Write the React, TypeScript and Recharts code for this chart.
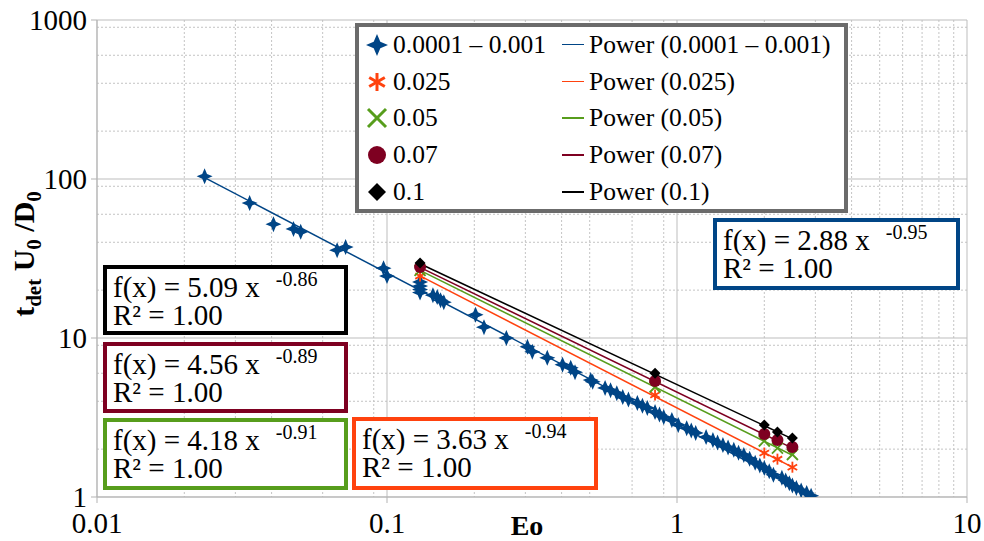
import { CartesianGrid, Legend, Scatter, ScatterChart, XAxis, YAxis } from "recharts"

const FONT = '"Liberation Serif", "Times New Roman", serif'

const xTicks = [0.01, 0.1, 1, 10]
const yTicks = [1, 10, 100, 1000]
const xMinor = [0.02, 0.03, 0.04, 0.05, 0.06, 0.07, 0.08, 0.09, 0.2, 0.3, 0.4, 0.5, 0.6, 0.7, 0.8, 0.9, 2, 3, 4, 5, 6, 7, 8, 9]
const yMinor = [2, 3, 4, 5, 6, 7, 8, 9, 20, 30, 40, 50, 60, 70, 80, 90, 200, 300, 400, 500, 600, 700, 800, 900]

// 0.0001 – 0.001 series (lots of overlapping points)
const blueEo = [
  0.0235, 0.0336, 0.0406, 0.0476, 0.0504, 0.0673, 0.072, 0.0973, 0.1, 0.13, 0.13, 0.13, 0.13,
  0.144, 0.149, 0.153, 0.157, 0.202, 0.216, 0.258, 0.305, 0.317, 0.357, 0.403, 0.43, 0.445,
  0.504, 0.512, 0.565, 0.59, 0.62, 0.65, 0.68, 0.73, 0.76, 0.79, 0.84, 0.87, 0.9, 0.96, 1.01,
  1.08, 1.12, 1.16, 1.26, 1.33, 1.38, 1.44, 1.5, 1.57, 1.63, 1.7, 1.78, 1.86, 1.93, 2.0, 2.08,
  2.15, 2.3, 2.37, 2.44, 2.5, 2.58, 2.68, 2.8, 2.9,
]
const blueT = [
  104, 70.6, 52, 48.5, 46.5, 35.7, 37.3, 27.5, 24.5, 22.5, 21.2, 20.2, 19.3,
  18.6, 18.1, 17.3, 16.8, 14.0, 11.7, 10.0, 8.8, 8.2, 7.5, 6.8, 6.5, 6.1,
  5.44, 5.3, 4.85, 4.7, 4.5, 4.25, 4.1, 3.9, 3.75, 3.63, 3.42, 3.3, 3.18, 3.05, 2.84,
  2.71, 2.62, 2.53, 2.38, 2.28, 2.2, 2.12, 2.05, 1.98, 1.9, 1.84, 1.74, 1.64, 1.58, 1.52, 1.45,
  1.38, 1.32, 1.27, 1.22, 1.18, 1.14, 1.1, 1.06, 1.02,
]

const eoTested = [0.13, 0.84, 2.0, 2.22, 2.5]
const t025 = [24.5, 4.38, 1.89, 1.73, 1.54]
const t05 = [26.6, 4.92, 2.25, 2.03, 1.85]
const t07 = [28, 5.37, 2.49, 2.28, 2.06]
const t1 = [29.6, 6.0, 2.84, 2.56, 2.35]

const seriesNames = ["0.0001 – 0.001", "0.025", "0.05", "0.07", "0.1"]
const colors = ["#004586", "#ff420e", "#579d1c", "#7e0021", "#000000"]
const markers = ["star", "asterisk", "cross", "circle", "diamond"]

// power trend lines, start and end
const trendEo = [[0.0235, 3.0], [0.13, 2.5], [0.13, 2.5], [0.13, 2.5], [0.13, 2.5]]
const trendT = [[102, 1.0], [24.6, 1.54], [26.6, 1.83], [27.8, 2.03], [29.3, 2.32]]

const fitCoef = ["2.88", "3.63", "4.18", "4.56", "5.09"]
const fitExp = ["-0.95", "-0.94", "-0.91", "-0.89", "-0.86"]
const fitR2 = ["1.00", "1.00", "1.00", "1.00", "1.00"]

const pointSets = [blueEo.map((x, i) => ({ x, y: blueT[i] }))].concat(
  [t025, t05, t07, t1].map((ys) => eoTested.map((x, i) => ({ x, y: ys[i] })))
)
const trendSets = trendEo.map((xs, i) => xs.map((x, j) => ({ x, y: trendT[i][j] })))

// equation boxes: left, top, width, height
const boxes = [
  [713, 218, 247, 72],
  [352, 417, 246, 73],
  [103, 418, 245, 72],
  [103, 342, 245, 71],
  [103, 265, 245, 70],
]

function Marker({ kind, cx, cy, r, color }: { kind: string; cx: number; cy: number; r: number; color: string }) {
  if (kind === "star") {
    const w = r * 0.3
    const d = `M${cx},${cy - r} L${cx + w},${cy - w} L${cx + r},${cy} L${cx + w},${cy + w} L${cx},${cy + r} L${cx - w},${cy + w} L${cx - r},${cy} L${cx - w},${cy - w} Z`
    return <path d={d} fill={color} />
  }
  if (kind === "asterisk") {
    const a = r * 0.866
    const b = r * 0.5
    return (
      <g stroke={color} strokeWidth={r / 3}>
        <line x1={cx} y1={cy - r} x2={cx} y2={cy + r} />
        <line x1={cx - a} y1={cy - b} x2={cx + a} y2={cy + b} />
        <line x1={cx - a} y1={cy + b} x2={cx + a} y2={cy - b} />
      </g>
    )
  }
  if (kind === "cross") {
    return (
      <g stroke={color} strokeWidth={r / 3}>
        <line x1={cx - r} y1={cy - r} x2={cx + r} y2={cy + r} />
        <line x1={cx - r} y1={cy + r} x2={cx + r} y2={cy - r} />
      </g>
    )
  }
  if (kind === "circle") {
    return <circle cx={cx} cy={cy} r={r} fill={color} />
  }
  return <path d={`M${cx},${cy - r} L${cx + r},${cy} L${cx},${cy + r} L${cx - r},${cy} Z`} fill={color} />
}

const markerSize = [8, 5.5, 5.5, 6, 5.5]
const legendMarkerSize = [11, 9, 9, 9, 9]

function LegendBox() {
  return (
    <div
      style={{
        width: 493,
        height: 190,
        border: "4px solid #6b6b6b",
        boxSizing: "border-box",
        background: "#fff",
        position: "relative",
        fontFamily: FONT,
        fontSize: 25.5,
        color: "#000",
      }}
    >
      {seriesNames.map((name, i) => (
        <div key={name} style={{ position: "absolute", left: 0, top: 45 + 36.8 * i - 42.2, height: 30, width: "100%" }}>
          <svg width={26} height={26} style={{ position: "absolute", left: 5, top: 2 }}>
            <Marker kind={markers[i]} cx={13} cy={13} r={legendMarkerSize[i]} color={colors[i]} />
          </svg>
          <span style={{ position: "absolute", left: 34, top: 0, lineHeight: "30px", whiteSpace: "nowrap" }}>{name}</span>
          <div style={{ position: "absolute", left: 203, top: 14, width: 22, height: 1.5, background: colors[i] }} />
          <span style={{ position: "absolute", left: 230, top: 0, lineHeight: "30px", whiteSpace: "nowrap" }}>
            Power ({name})
          </span>
        </div>
      ))}
    </div>
  )
}

function YLabel() {
  return (
    <text transform="translate(34,254) rotate(-90)" textAnchor="middle" fontFamily={FONT} fontWeight="bold" fontSize={30} fill="#000">
      t<tspan fontSize={21} dy={7}>det</tspan>
      <tspan dy={-7}> U</tspan>
      <tspan fontSize={21} dy={7}>0</tspan>
      <tspan dy={-7}> /D</tspan>
      <tspan fontSize={21} dy={7}>0</tspan>
    </text>
  )
}

function XLabel() {
  return (
    <text x={527} y={535} textAnchor="middle" fontFamily={FONT} fontWeight="bold" fontSize={28} fill="#000">
      Eo
    </text>
  )
}

export default function App() {
  return (
    <div style={{ position: "absolute", left: 0, top: 0, width: 984, height: 541, background: "#fff", fontFamily: FONT }}>
      <ScatterChart width={984} height={541} margin={{ top: 20, right: 17, bottom: 0, left: 0 }}>
        <CartesianGrid stroke="#c4c4c4" strokeDasharray="2 2" horizontalValues={yMinor} verticalValues={xMinor} />
        <CartesianGrid stroke="#bdbdbd" />
        <XAxis
          type="number"
          dataKey="x"
          scale="log"
          domain={[0.01, 10]}
          ticks={xTicks}
          allowDataOverflow
          height={44}
          stroke="#b3b3b3"
          tickSize={6}
          tickMargin={9}
          tick={{ fill: "#000", fontSize: 29, fontFamily: FONT }}
          label={{ content: XLabel }}
        />
        <YAxis
          type="number"
          dataKey="y"
          scale="log"
          domain={[1, 1000]}
          ticks={yTicks}
          allowDataOverflow
          width={97}
          stroke="#b3b3b3"
          tickSize={6}
          tickMargin={4}
          tick={{ fill: "#000", fontSize: 29, fontFamily: FONT }}
          label={{ content: YLabel }}
        />
        {trendSets.map((data, i) => (
          <Scatter
            key={"trend" + i}
            data={data}
            line={{ stroke: colors[i], strokeWidth: 1.5 }}
            shape={() => <g />}
            isAnimationActive={false}
          />
        ))}
        {pointSets.map((data, i) => (
          <Scatter
            key={"pts" + i}
            data={data}
            isAnimationActive={false}
            shape={(p: any) => <Marker kind={markers[i]} cx={p.cx} cy={p.cy} r={markerSize[i]} color={colors[i]} />}
          />
        ))}
        <Legend
          content={LegendBox}
          layout="horizontal"
          verticalAlign="middle"
          align="center"
          width={493}
          height={190}
          wrapperStyle={{ left: 355, top: 23, width: 493, height: 190 }}
        />
      </ScatterChart>
      <svg width={984} height={541} style={{ position: "absolute", left: 0, top: 0, pointerEvents: "none" }}>
        {boxes.map(([l, t, w, h], i) => (
          <g key={i} fontFamily={FONT} fill="#000">
            <rect x={l + 2} y={t + 2} width={w - 4} height={h - 4} fill="#fff" stroke={colors[i]} strokeWidth={4} />
            <text x={l + 10} y={t + 32} fontSize={29}>
              f(x) = {fitCoef[i]} x
              <tspan dx={16} dy={-11} fontSize={20}>
                {fitExp[i]}
              </tspan>
            </text>
            <text x={l + 10} y={t + 60} fontSize={29}>
              R² = {fitR2[i]}
            </text>
          </g>
        ))}
      </svg>
    </div>
  )
}
